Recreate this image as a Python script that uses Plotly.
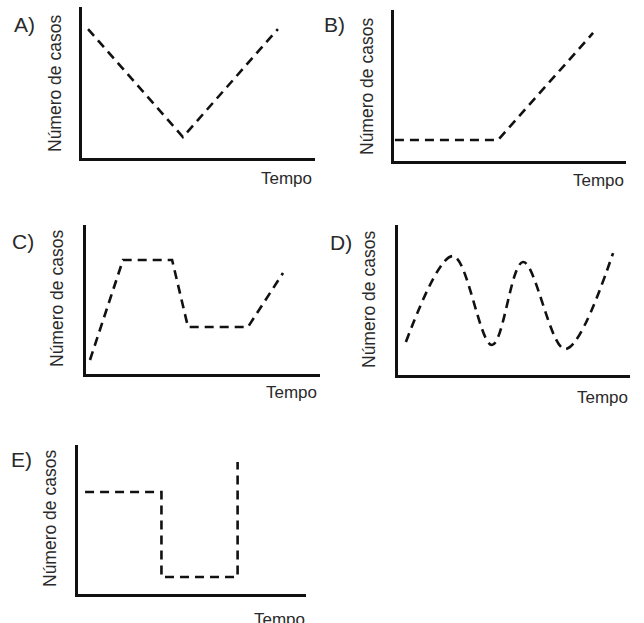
import plotly.graph_objects as go

W, H = 644, 623
_INK = "#111111"
_TEXT = "#2a2a2a"
_FONT = "Liberation Sans, Arial, sans-serif"

# curves, in 0-10 units of each panel's own axes
a_tempo = [0.26, 4.33, 8.41]
a_casos = [8.54, 1.39, 8.54]

b_tempo = [0.04, 4.48, 8.58]
b_casos = [1.39, 1.39, 8.48]

c_tempo = [0.17, 1.58, 3.68, 4.36, 6.92, 8.42]
c_casos = [0.94, 7.65, 7.65, 3.15, 3.15, 6.78]

d_tempo = [0.34, 2.37, 4.05, 5.39, 7.20, 9.27]
d_casos = [2.20, 7.93, 2.00, 7.53, 1.73, 8.13]

e_tempo = [0.31, 3.66, 3.66, 7.00, 7.00]
e_casos = [6.85, 6.85, 1.14, 1.14, 8.86]

letters = ["A)", "B)", "C)", "D)", "E)"]
y_title = "Número de casos"
x_title = "Tempo"

# panel boxes in page pixels: left, right, top, bottom
boxes = [
    (82, 315, 7, 158),
    (394, 626, 10, 161),
    (86, 320, 225, 374),
    (398, 630, 225, 375),
    (78, 306, 445, 594),
]
# label centres in page pixels: letter, y title, x title
letter_pos = [(24, 24), (334, 24), (23, 241), (341, 242), (21, 460)]
ytitle_pos = [(55, 84), (367, 87), (57, 299), (369, 300), (50, 518)]
xtitle_pos = [(286, 178), (598, 180), (291, 392), (602, 397), (279, 619)]

series = [
    (a_tempo, a_casos, "linear"),
    (b_tempo, b_casos, "linear"),
    (c_tempo, c_casos, "linear"),
    (d_tempo, d_casos, "spline"),
    (e_tempo, e_casos, "linear"),
]


def px(x, y):
    return x / W, 1 - y / H


fig = go.Figure()
layout = {}
annotations = []
for i, ((xs, ys, shape), (l, r, t, b)) in enumerate(zip(series, boxes), start=1):
    suffix = "" if i == 1 else str(i)
    fig.add_trace(go.Scatter(
        x=xs, y=ys, mode="lines",
        xaxis="x" + suffix, yaxis="y" + suffix,
        line=dict(color=_INK, width=2.6, dash="9px,6px", shape=shape, smoothing=1.0),
        showlegend=False, hoverinfo="skip", cliponaxis=False,
    ))
    axis_common = dict(
        range=[0, 10], showgrid=False, zeroline=False, showticklabels=False,
        ticks="", showline=True, linecolor=_INK, linewidth=3, fixedrange=True,
    )
    layout["xaxis" + suffix] = dict(
        axis_common, domain=[l / W, r / W], anchor="y" + suffix,
    )
    layout["yaxis" + suffix] = dict(
        axis_common, domain=[1 - b / H, 1 - t / H], anchor="x" + suffix,
    )

    lx, ly = px(*letter_pos[i - 1])
    annotations.append(dict(
        x=lx, y=ly, text=letters[i - 1], showarrow=False,
        font=dict(size=21, color=_TEXT, family=_FONT),
    ))
    yx, yy = px(*ytitle_pos[i - 1])
    annotations.append(dict(
        x=yx, y=yy, text=y_title, textangle=-90, showarrow=False,
        font=dict(size=17.5, color=_TEXT, family=_FONT),
    ))
    tx, ty = px(*xtitle_pos[i - 1])
    annotations.append(dict(
        x=tx, y=ty, text=x_title, showarrow=False,
        font=dict(size=17, color=_TEXT, family=_FONT),
    ))

for a in annotations:
    a.update(xref="paper", yref="paper", xanchor="center", yanchor="middle")

fig.update_layout(
    **layout,
    annotations=annotations,
    width=W, height=H,
    margin=dict(l=0, r=0, t=0, b=0),
    paper_bgcolor="white", plot_bgcolor="white",
)

fig.write_html(
    "out.html",
    config={"displayModeBar": False},
    post_script="document.body.style.margin='0';document.body.style.overflow='hidden';",
)
